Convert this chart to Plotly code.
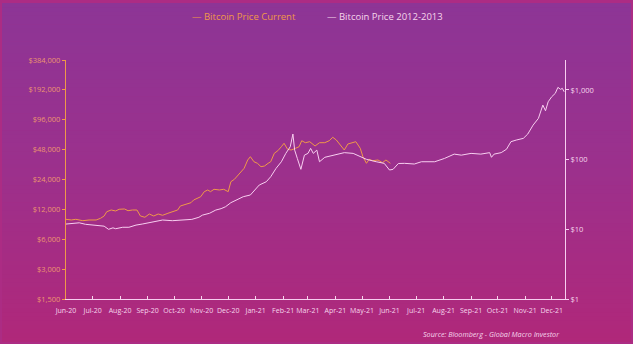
import plotly.graph_objects as go

# --- Bitcoin price, current cycle (USD, left log axis) ---
current_dates = [
    "2020-06-01", "2020-06-07", "2020-06-12", "2020-06-20", "2020-06-27", "2020-07-05",
    "2020-07-10", "2020-07-14", "2020-07-17", "2020-07-22", "2020-07-27", "2020-07-31",
    "2020-08-06", "2020-08-10", "2020-08-15", "2020-08-20", "2020-08-24", "2020-08-29",
    "2020-09-03", "2020-09-08", "2020-09-13", "2020-09-18", "2020-09-24", "2020-09-29",
    "2020-10-05", "2020-10-08", "2020-10-14", "2020-10-20", "2020-10-23", "2020-10-27",
    "2020-10-31", "2020-11-04", "2020-11-08", "2020-11-11", "2020-11-15", "2020-11-21",
    "2020-11-26", "2020-12-01", "2020-12-04", "2020-12-08", "2020-12-14", "2020-12-19",
    "2020-12-23", "2020-12-26", "2020-12-30", "2021-01-03", "2021-01-07", "2021-01-11",
    "2021-01-15", "2021-01-18", "2021-01-22", "2021-01-26", "2021-01-30", "2021-02-02",
    "2021-02-06", "2021-02-10", "2021-02-15", "2021-02-19", "2021-02-22", "2021-02-26",
    "2021-03-03", "2021-03-09", "2021-03-14", "2021-03-20", "2021-03-25", "2021-03-29",
    "2021-04-02", "2021-04-07", "2021-04-11", "2021-04-15", "2021-04-19", "2021-04-24",
    "2021-04-29", "2021-05-02", "2021-05-06", "2021-05-09", "2021-05-13", "2021-05-19",
    "2021-05-24", "2021-05-28", "2021-06-02",
]
current_price = [
    9530, 9380, 9530, 9230, 9380, 9380,
    9760, 10290, 11370, 11830, 11560, 12030,
    12110, 11640, 11830, 11830, 10290, 9990,
    10780, 10290, 10780, 10460, 10960, 11370,
    11830, 12980, 13590, 14010, 14920, 15520,
    16100, 18090, 18820, 18090, 19120, 18820,
    19120, 18090, 22800, 24110, 27720, 31130,
    37740, 40740, 36270, 34950, 32300, 32830,
    34950, 36270, 44070, 46820, 51380, 55600,
    48360, 47570, 49500, 51380, 59050, 56370,
    57690, 52210, 56370, 56370, 59050, 63900,
    60010, 53440, 47570, 54690, 55600, 57690,
    49500, 40740, 34950, 38350, 37120, 37740,
    35430, 37740, 34950,
]

# --- Bitcoin price 2012-2013, shifted onto the current calendar (USD, right log axis) ---
past_dates = [
    "2020-06-01", "2020-06-08", "2020-06-16", "2020-06-23", "2020-07-01", "2020-07-08",
    "2020-07-14", "2020-07-19", "2020-07-24", "2020-07-27", "2020-08-04", "2020-08-11",
    "2020-08-19", "2020-08-26", "2020-09-06", "2020-09-18", "2020-09-29", "2020-10-10",
    "2020-10-21", "2020-10-29", "2020-11-02", "2020-11-10", "2020-11-17", "2020-11-23",
    "2020-11-28", "2020-12-04", "2020-12-11", "2020-12-18", "2020-12-26", "2020-12-31",
    "2021-01-05", "2021-01-13", "2021-01-18", "2021-01-24", "2021-01-30", "2021-02-04",
    "2021-02-09", "2021-02-12", "2021-02-14", "2021-02-17", "2021-02-21", "2021-02-25",
    "2021-03-01", "2021-03-04", "2021-03-07", "2021-03-11", "2021-03-14", "2021-03-20",
    "2021-03-29", "2021-04-11", "2021-04-21", "2021-04-28", "2021-05-06", "2021-05-17",
    "2021-05-26", "2021-06-01", "2021-06-05", "2021-06-11", "2021-06-18", "2021-06-29",
    "2021-07-07", "2021-07-22", "2021-08-02", "2021-08-13", "2021-08-21", "2021-09-01",
    "2021-09-12", "2021-09-22", "2021-09-24", "2021-09-27", "2021-10-05", "2021-10-11",
    "2021-10-16", "2021-10-22", "2021-10-30", "2021-11-04", "2021-11-10", "2021-11-16",
    "2021-11-21", "2021-11-24", "2021-11-27", "2021-12-01", "2021-12-05", "2021-12-08",
    "2021-12-11", "2021-12-13", "2021-12-15",
]
past_price = [
    11.9, 12.2, 12.4, 11.8, 11.5, 11.5,
    11.1, 10.0, 10.5, 10.2, 10.7, 10.7,
    11.5, 11.9, 12.7, 13.6, 13.3, 13.6,
    13.9, 14.9, 16.0, 17.0, 18.9, 19.8,
    21.1, 24.1, 26.9, 29.4, 31.1, 36.6,
    43.2, 48.2, 56.9, 75.0, 93.3, 123,
    153, 233, 137, 104, 72.6, 116,
    123, 145, 123, 137, 93.3, 108,
    116, 126, 123, 113, 101, 93.3,
    88.5, 71.0, 72.6, 88.0, 88.5, 86.5,
    93.3, 93.3, 104, 120, 116, 123,
    120, 126, 108, 120, 126, 141,
    181, 191, 202, 233, 313, 391,
    607, 503, 677, 799, 893, 1090,
    1020, 1055, 942,
]

left_ticks = [1500, 3000, 6000, 12000, 24000, 48000, 96000, 192000, 384000]
left_labels = ["$1,500", "$3,000", "$6,000", "$12,000", "$24,000", "$48,000",
               "$96,000", "$192,000", "$384,000"]
right_ticks = [1, 10, 100, 1000]
right_labels = ["$1", "$10", "$100", "$1,000"]

ORANGE = "rgb(240,152,72)"
PINK_WHITE = "rgb(248,206,240)"
LEFT_TEXT = "rgb(236,150,112)"
RIGHT_TEXT = "rgb(246,214,236)"
FONT = "Open Sans"

W, H = 639, 349
L, R, T, B = 66, 565, 60, 299   # plot-area edges in pixels


def px_x(px):
    return (px - L) / (R - L)


def px_y(py):
    return (B - py) / (B - T)


fig = go.Figure()
fig.add_trace(go.Scatter(
    x=current_dates, y=current_price, mode="lines", name="Bitcoin Price Current",
    line=dict(color=ORANGE, width=1), yaxis="y",
))
fig.add_trace(go.Scatter(
    x=past_dates, y=past_price, mode="lines", name="Bitcoin Price 2012-2013",
    line=dict(color=PINK_WHITE, width=1), yaxis="y2",
))

# Background: white page, magenta frame, then a purple-to-magenta vertical gradient
shapes = [
    dict(type="rect", xref="paper", yref="paper", layer="below",
         x0=px_x(0), x1=px_x(633), y0=px_y(0), y1=px_y(344),
         fillcolor="rgb(172,44,132)", line=dict(width=0)),
]
top_rgb = (141, 53, 150)
mid_rgb = (156, 48, 140)
bot_rgb = (176, 40, 122)
y_start, y_end = 3, 342
n_bands = 80
for i in range(n_bands):
    t = i / (n_bands - 1)
    if t < 0.5:
        a, b, u = top_rgb, mid_rgb, t / 0.5
    else:
        a, b, u = mid_rgb, bot_rgb, (t - 0.5) / 0.5
    c = tuple(round(a[k] + (b[k] - a[k]) * u) for k in range(3))
    y0 = y_start + (y_end - y_start) * i / n_bands
    y1 = y_start + (y_end - y_start) * (i + 1) / n_bands + 0.6
    shapes.append(dict(
        type="rect", xref="paper", yref="paper", layer="below",
        x0=px_x(2), x1=px_x(631), y0=px_y(y0), y1=px_y(min(y1, y_end)),
        fillcolor="rgb(%d,%d,%d)" % c, line=dict(width=0),
    ))

annotations = [
    dict(xref="paper", yref="paper", x=px_x(190), y=px_y(17), xanchor="left",
         yanchor="middle", showarrow=False, text="— Bitcoin Price Current",
         font=dict(family=FONT, size=9.5, color=ORANGE)),
    dict(xref="paper", yref="paper", x=px_x(325), y=px_y(17), xanchor="left",
         yanchor="middle", showarrow=False, text="— Bitcoin Price 2012-2013",
         font=dict(family=FONT, size=9.5, color=RIGHT_TEXT)),
    dict(xref="paper", yref="paper", x=px_x(562), y=px_y(334), xanchor="right",
         yanchor="middle", showarrow=False,
         text="<i>Source: Bloomberg - Global Macro Investor</i>",
         font=dict(family=FONT, size=7.2, color=RIGHT_TEXT)),
]

fig.update_layout(
    width=W, height=H,
    margin=dict(l=L, r=W - R, t=T, b=H - B, pad=0),
    paper_bgcolor="white", plot_bgcolor="rgba(0,0,0,0)",
    showlegend=False,
    shapes=shapes, annotations=annotations,
    font=dict(family=FONT),
    xaxis=dict(
        type="date", range=["2020-06-01", "2021-12-16"],
        dtick="M1", tick0="2020-06-01", tickformat="%b-%y", tickangle=0,
        ticks="inside", ticklen=3, tickcolor=RIGHT_TEXT,
        ticklabelstandoff=5,
        showline=True, linecolor=PINK_WHITE, linewidth=1,
        showgrid=False, zeroline=False,
        tickfont=dict(family=FONT, size=7, color=RIGHT_TEXT),
    ),
    yaxis=dict(
        type="log", range=[3.17609, 5.58433],
        tickvals=left_ticks, ticktext=left_labels,
        ticks="outside", ticklen=3, tickcolor=ORANGE,
        showline=True, linecolor=ORANGE, linewidth=1.2,
        showgrid=False, zeroline=False,
        tickfont=dict(family=FONT, size=7.5, color=LEFT_TEXT),
    ),
    yaxis2=dict(
        type="log", range=[0, 3.43], overlaying="y", side="right",
        tickvals=right_ticks, ticktext=right_labels,
        ticks="outside", ticklen=3, tickcolor=PINK_WHITE,
        showline=True, linecolor=PINK_WHITE, linewidth=1,
        showgrid=False, zeroline=False,
        tickfont=dict(family=FONT, size=7.5, color=RIGHT_TEXT),
    ),
)

fig.write_html("out.html")
